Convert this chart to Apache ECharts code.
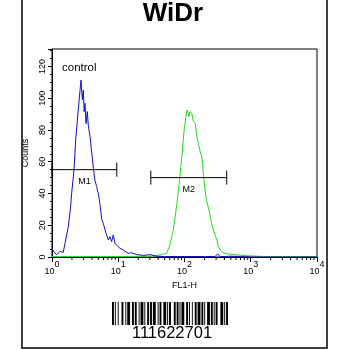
<!DOCTYPE html>
<html>
<head>
<meta charset="utf-8">
<script src="https://cdn.jsdelivr.net/npm/echarts@6/dist/echarts.min.js"></script>
<style>html,body{margin:0;padding:0;background:#fff}#c{width:350px;height:350px}</style>
</head>
<body>
<div id="c"></div>
<script>
// ---- data ----
var title = 'WiDr';
var controlLabel = 'control';
var xName = 'FL1-H';
var yName = 'Counts';
var barcodeText = '111622701';

var blueX = [1.00,1.17,1.32,1.48,1.57,1.76,1.91,1.98,2.15,2.28,2.49,2.65,2.74,2.87,2.97,3.06,3.15,3.26,3.41,3.53,3.75,3.97,4.21,4.46,4.72,5.00,5.31,5.62,5.96,6.53,7.08,7.50,7.94,8.41,8.91,9.48,10.6,11.9,14.2,15.8,19.1,24.0,30.2,38.0,50.1,100,200,290,316,345,398,501,1000,3162,10000];
var blueY = [5,1.3,3.5,3,8.6,19,31.7,40,55,74,92.6,105,111.5,99,105,91.6,96.8,84,91.6,83,75.8,66,56,48,44.3,40,33,24,21,15,10.7,12.8,9.6,13.9,8.6,7.6,5.5,4.4,2.3,2.7,1.5,1,1.5,0.5,0.3,0.3,0.3,0.3,2,0.3,0.3,0.5,0,0,0];

var greenX = [1,3.16,10,31.6,44.7,53.7,60.3,67.6,75.9,83.2,91.2,97.7,105,110,117,120,129,135,145,151,162,170,182,191,204,214,234,257,282,309,324,347,380,437,617,871,1585,10000];
var greenY = [0.3,0.3,0.3,0.5,1.5,2.3,7.6,17,31.7,46.4,63,78,88.4,92.6,88.4,91.6,90.5,86,84,78,71.6,67.4,63,54.8,42,36,29.6,21,15,10.7,6.5,4.4,2.7,2,1.3,0.8,0.3,0.3];

var markerNames = ['M1','M2'];
var markerStart = [1, 31];
var markerEnd = [9.5, 434];
var markerLevel = [55, 50];

var yTicks = [0,20,40,60,80,100,120];
var xMinorTicks = [];
[1,10,100,1000].forEach(function(d){ for (var k=2;k<=9;k++) xMinorTicks.push(d*k); });

var barcodePattern = '11010010001100101110011011001011101001101101110010110011101011000110110101110011010010011011101101001110110101100011101011';

// ---- build ----
var font = 'Liberation Sans, Arial, sans-serif';
var chart = echarts.init(document.getElementById('c'));

var blueData = blueX.map(function(x,i){return [x, blueY[i]];});
var greenData = greenX.map(function(x,i){return [x, greenY[i]];});
var markerData = markerNames.map(function(n,i){return [markerStart[i], markerEnd[i], markerLevel[i], n];});
var minorData = xMinorTicks.map(function(v){return [v, 0];});

var graphics = [];
graphics.push({type:'rect', shape:{x:22, y:-3, width:305, height:351}, style:{fill:null, stroke:'#000', lineWidth:1.5}, silent:true});
graphics.push({type:'text', x:173, y:14, style:{text:title, font:'bold 26px ' + font, fill:'#000', textAlign:'center', textVerticalAlign:'middle'}});
graphics.push({type:'text', x:62, y:68, style:{text:controlLabel, font:'11.5px ' + font, fill:'#000', textAlign:'left', textVerticalAlign:'middle'}});
var bx = 112, mod = 116 / barcodePattern.length;
var i = 0;
while (i < barcodePattern.length) {
  if (barcodePattern[i] === '1') {
    var j = i; while (j < barcodePattern.length && barcodePattern[j] === '1') j++;
    graphics.push({type:'rect', shape:{x: bx + i*mod, y:302, width:(j-i)*mod, height:23}, style:{fill:'#000'}, silent:true});
    i = j;
  } else i++;
}
graphics.push({type:'text', x:172, y:333, style:{text:barcodeText, font:'16.5px ' + font, fill:'#000', textAlign:'center', textVerticalAlign:'middle'}});

var option = {
  animation: false,
  backgroundColor: '#fff',
  grid: {left:52, right:33, top:49, bottom:93, show:true, borderColor:'#000', borderWidth:1, backgroundColor:'transparent'},
  xAxis: {
    type:'log', logBase:10, min:1, max:10000,
    name:xName, nameLocation:'middle', nameGap:19,
    nameTextStyle:{fontFamily:font, fontSize:9, color:'#000'},
    axisLine:{lineStyle:{color:'#000', width:1}},
    axisTick:{show:true, length:5, lineStyle:{color:'#000'}},
    splitLine:{show:false},
    axisLabel:{
      margin:3, fontFamily:font, color:'#000',
      formatter:function(v){ var e = Math.round(Math.log10(v)); return '{b|10}{s|' + e + '}'; },
      rich:{
        b:{fontFamily:font, fontSize:9, lineHeight:16, verticalAlign:'bottom', color:'#000'},
        s:{fontFamily:font, fontSize:9, lineHeight:9, verticalAlign:'top', color:'#000'}
      }
    }
  },
  yAxis: {
    type:'value', min:0, max:131, interval:20,
    name:yName, nameLocation:'middle', nameGap:19, nameRotate:90,
    nameTextStyle:{fontFamily:font, fontSize:9, color:'#000'},
    axisLine:{show:true, lineStyle:{color:'#000', width:1}},
    axisTick:{show:true, length:4, lineStyle:{color:'#000'}},
    minorTick:{show:true, splitNumber:4, length:2, lineStyle:{color:'#000'}},
    splitLine:{show:false},
    axisLabel:{rotate:90, margin:5, fontFamily:font, fontSize:9, color:'#000', showMaxLabel:false,
      formatter:function(v){ return yTicks.indexOf(v) >= 0 ? String(v) : ''; }}
  },
  series: [
    {type:'line', data:greenData, showSymbol:false, symbol:'none', lineStyle:{color:'#22dd22', width:1}, z:2},
    {type:'line', data:blueData, showSymbol:false, symbol:'none', lineStyle:{color:'#1010cc', width:1}, z:3},
    {type:'custom', data:markerData, encode:{x:[0,1], y:2}, clip:false, z:4,
      renderItem:function(params, api){
        var y = api.value(2);
        var p1 = api.coord([api.value(0), y]);
        var p2 = api.coord([api.value(1), y]);
        var st = {stroke:'#000', lineWidth:1};
        return {type:'group', children:[
          {type:'line', shape:{x1:p1[0], y1:p1[1], x2:p2[0], y2:p2[1]}, style:st},
          {type:'line', shape:{x1:p1[0], y1:p1[1]-7, x2:p1[0], y2:p1[1]+7}, style:st},
          {type:'line', shape:{x1:p2[0], y1:p2[1]-7, x2:p2[0], y2:p2[1]+7}, style:st},
          {type:'text', x:(p1[0]+p2[0])/2, y:p1[1]+12, style:{text:api.value(3), font:'9px ' + font, fill:'#000', textAlign:'center', textVerticalAlign:'middle'}}
        ]};
      }},
    {type:'custom', data:minorData, encode:{x:0, y:1}, clip:false, z:4,
      renderItem:function(params, api){
        var p = api.coord([api.value(0), 0]);
        return {type:'line', shape:{x1:p[0], y1:p[1], x2:p[0], y2:p[1]+3}, style:{stroke:'#000', lineWidth:1}};
      }}
  ],
  graphic: graphics
};
chart.setOption(option);
</script>
</body>
</html>
